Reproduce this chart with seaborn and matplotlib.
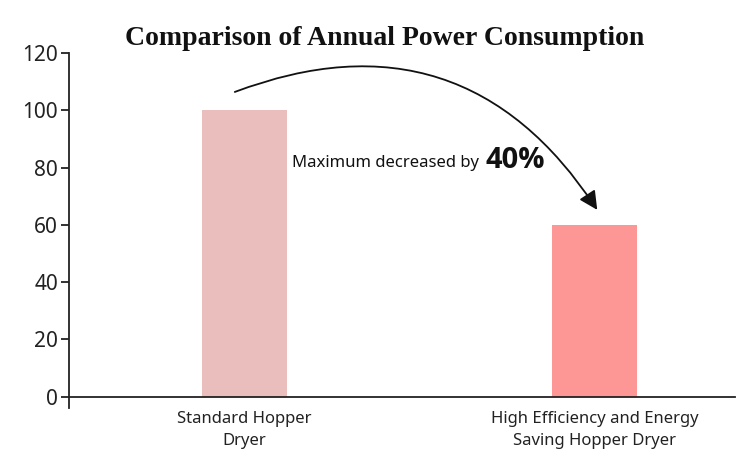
import seaborn as sns
import matplotlib.pyplot as plt
import pandas as pd

# data
categories = ["Standard Hopper\nDryer", "High Efficiency and Energy\nSaving Hopper Dryer"]
power = [100, 60]
bar_colors = ["#EBBEBE", "#FC9795"]
y_ticks = [0, 20, 40, 60, 80, 100, 120]

df = pd.DataFrame({"Dryer": categories, "Power": power})

sns.set_style("white")
plt.rcParams['font.family'] = ['Noto Sans', 'DejaVu Sans']

fig = plt.figure(figsize=(7.5, 4.61), dpi=100)
ax = fig.add_axes([0.092, 0.115, 0.888, 0.77])

sns.barplot(data=df, x="Dryer", y="Power", hue="Dryer", palette=bar_colors,
            width=0.243, legend=False, ax=ax, saturation=1, linewidth=0)

ax.set_xlim(-0.5, 1.4)
ax.set_ylim(-4, 120)
ax.set_yticks(y_ticks)
ax.set_xlabel("")
ax.set_ylabel("")

for s in ["top", "right"]:
    ax.spines[s].set_visible(False)
ax.spines["bottom"].set_position(("data", 0))
ax.spines["left"].set_color("#222222")
ax.spines["bottom"].set_color("#222222")
ax.spines["left"].set_linewidth(1.3)
ax.spines["bottom"].set_linewidth(1.3)

ax.tick_params(axis="y", which="both", left=True, length=6, width=1.3,
               direction="out", labelsize=15, colors="#222222", pad=2)
ax.tick_params(axis="x", bottom=False, labelsize=12, pad=7, colors="#222222")
for lab in ax.get_xticklabels():
    lab.set_linespacing(1.5)

ax.set_title("Comparison of Annual Power Consumption", fontsize=20,
             fontweight="bold", family="Liberation Serif", pad=6, x=0.474,
             color="#111111")

# curved arrow from first bar to second bar
ax.annotate("", xy=(1.007, 65.2), xytext=(-0.027, 106.4),
            arrowprops=dict(arrowstyle="-|>", connectionstyle="arc3,rad=-0.4",
                            color="#111111", lw=1.3, mutation_scale=28,
                            shrinkA=0, shrinkB=0))

ax.text(0.136, 81.5, "Maximum decreased by", fontsize=12, ha="left", va="center",
        color="#111111")
ax.text(0.688, 82.3, "40%", fontsize=21, fontweight="bold", family="Open Sans",
        ha="left", va="center", color="#111111")

fig.savefig("out.png", dpi=100)
